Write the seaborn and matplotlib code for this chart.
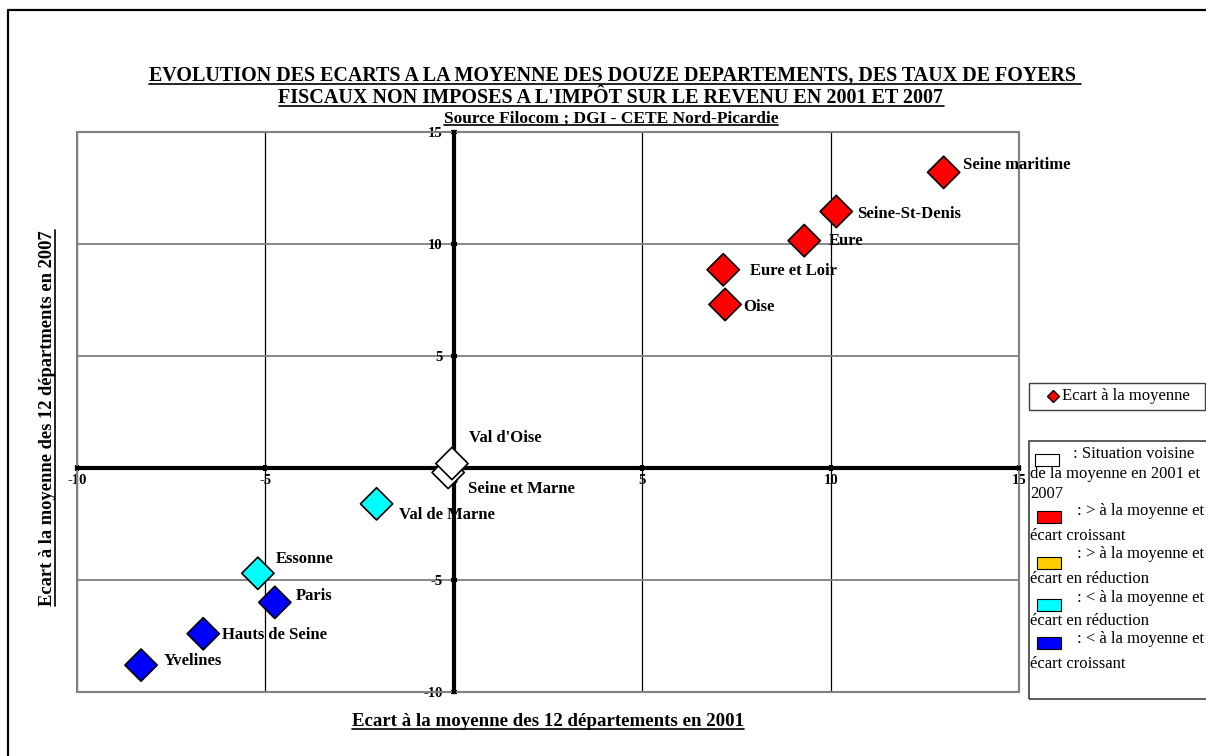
import matplotlib
matplotlib.use("Agg")
import matplotlib.pyplot as plt
import seaborn as sns
import pandas as pd
from matplotlib.patches import Rectangle
from matplotlib.lines import Line2D

# données (écart à la moyenne des 12 départements)
departements = ["Seine maritime", "Seine-St-Denis", "Eure", "Eure et Loir", "Oise",
                "Seine et Marne", "Val d'Oise", "Val de Marne", "Essonne", "Paris",
                "Hauts de Seine", "Yvelines"]
ecart_2001 = [13.0, 10.15, 9.3, 7.15, 7.2, -0.15, -0.05, -2.05, -5.2, -4.75, -6.65, -8.3]
ecart_2007 = [13.2, 11.45, 10.15, 8.85, 7.3, -0.2, 0.2, -1.6, -4.7, -6.0, -7.4, -8.8]
situation = ["sup_croissant"] * 5 + ["voisine"] * 2 + ["inf_reduction"] * 2 + ["inf_croissant"] * 3

couleurs = {"voisine": "white", "sup_croissant": "#FF0000", "sup_reduction": "#FFCC00",
            "inf_reduction": "#00FFFF", "inf_croissant": "#0000FF"}

# décalage des étiquettes (points)
decalages = [(14, 5), (15, -1.5), (18, 0), (19, -0.7), (13, -1.5), (14, -12),
             (12, 18.5), (16.5, -8), (13, 10), (15, 4.3), (13.7, -0.7), (16.5, 3)]

ticks_x = [-10, -5, 0, 5, 10, 15]
ticks_y = [-10, -5, 0, 5, 10, 15]

df = pd.DataFrame({"dep": departements, "x": ecart_2001, "y": ecart_2007, "situation": situation})

sns.set_style("white")
plt.rcParams["font.family"] = "Liberation Serif"
plt.rcParams["axes.unicode_minus"] = False
for k in ["text.color", "axes.labelcolor", "xtick.color", "ytick.color"]:
    plt.rcParams[k] = "black"

W, H = 1206, 756
fig = plt.figure(figsize=(W / 100, H / 100), dpi=100)


def px(x, y):
    return x / W, 1 - y / H


ax = fig.add_axes([77 / W, 1 - 692 / H, (1019 - 77) / W, (692 - 132) / H])

sns.scatterplot(data=df, x="x", y="y", hue="situation", palette=couleurs, marker="D",
                s=270, edgecolor="black", linewidth=1.2, legend=False, ax=ax, zorder=4)

for i, row in df.iterrows():
    ax.annotate(row["dep"], (row["x"], row["y"]), xytext=decalages[i], textcoords="offset points",
                ha="left", va="center", fontsize=12, fontweight="bold", zorder=5)

ax.set_xlim(-10, 15)
ax.set_ylim(-10, 15)
ax.set_xticks(ticks_x)
ax.set_yticks(ticks_y)
ax.set_xlabel("")
ax.set_ylabel("")

ax.xaxis.grid(True, color="black", lw=0.9)
ax.yaxis.grid(True, color="#808080", lw=1.3)
ax.set_axisbelow(True)

for s in ["top", "right"]:
    ax.spines[s].set_visible(False)
ax.spines["left"].set_position(("data", 0))
ax.spines["bottom"].set_position(("data", 0))
ax.spines["left"].set_linewidth(3)
ax.spines["bottom"].set_linewidth(3)
ax.spines["left"].set_color("black")
ax.spines["bottom"].set_color("black")
ax.add_patch(Rectangle((0, 0), 1, 1, transform=ax.transAxes, fill=False,
                       edgecolor="#808080", lw=1.5, zorder=2.4, clip_on=False))

ax.tick_params(axis="both", direction="inout", length=4, width=3, color="black",
               labelsize=10.5, bottom=True, left=True)
ax.tick_params(axis="x", pad=2)
ax.tick_params(axis="y", pad=6)
plt.setp(ax.get_xticklabels(), fontweight="bold")
plt.setp(ax.get_yticklabels(), fontweight="bold")

# titre et libellés d'axes (soulignés)
titres = []
titres.append(fig.text(*px(615, 76), "EVOLUTION DES ECARTS A LA MOYENNE DES DOUZE DEPARTEMENTS, DES TAUX DE FOYERS ",
                       ha="center", va="center", fontsize=14.4, fontweight="bold"))
titres.append(fig.text(*px(611, 98), "FISCAUX NON IMPOSES A L'IMPÔT SUR LE REVENU EN 2001 ET 2007",
                       ha="center", va="center", fontsize=14.5, fontweight="bold"))
titres.append(fig.text(*px(611, 119), "Source Filocom ; DGI - CETE Nord-Picardie",
                       ha="center", va="center", fontsize=12.5, fontweight="bold"))
lab_x = fig.text(*px(548, 722), "Ecart à la moyenne des 12 départements en 2001",
                 ha="center", va="center", fontsize=13.6, fontweight="bold")
lab_y = fig.text(*px(48, 418), "Ecart à la moyenne des 12 départments en 2007",
                 ha="center", va="center", fontsize=13.3, fontweight="bold", rotation=90)

# légende 1
fig.patches.append(Rectangle(px(1029, 410), 176 / W, 27 / H, transform=fig.transFigure,
                             fill=False, edgecolor="#404040", lw=1))
fig.lines.append(Line2D([1053 / W], [1 - 396 / H], transform=fig.transFigure, marker="D",
                        markersize=6, markerfacecolor="#FF0000", markeredgecolor="black", lw=0))
fig.text(*px(1062, 396), "Ecart à la moyenne", ha="left", va="center", fontsize=12)

# légende 2
fig.patches.append(Rectangle(px(1029, 699), 200 / W, 258 / H, transform=fig.transFigure,
                             fill=False, edgecolor="#404040", lw=1.2))
lignes = [(1073, 454, ": Situation voisine"), (1030, 474, "de la moyenne en 2001 et"),
          (1030, 494, "2007"),
          (1077, 511, ": > à la moyenne et"), (1030, 536, "écart croissant"),
          (1077, 554, ": > à la moyenne et"), (1030, 579, "écart en réduction"),
          (1077, 598, ": < à la moyenne et"), (1030, 621, "écart en réduction"),
          (1077, 639, ": < à la moyenne et"), (1030, 664, "écart croissant")]
for x0, y0, t in lignes:
    fig.text(*px(x0, y0), t, ha="left", va="center", fontsize=12)
cases = [(1035, 454, "voisine"), (1037, 511, "sup_croissant"), (1037, 557, "sup_reduction"),
         (1037, 599, "inf_reduction"), (1037, 637, "inf_croissant")]
for x0, y0, k in cases:
    fig.patches.append(Rectangle(px(x0, y0 + 12), 24 / W, 12 / H, transform=fig.transFigure,
                                 facecolor=couleurs[k], edgecolor="black", lw=0.8))

# cadre extérieur
fig.lines.append(Line2D([8 / W, 8 / W, 1.01], [-0.01, 1 - 10 / H, 1 - 10 / H],
                        transform=fig.transFigure, color="black", lw=1.6))

# soulignement
fig.canvas.draw()
rend = fig.canvas.get_renderer()
inv = fig.transFigure.inverted()
for t in titres + [lab_x]:
    bb = t.get_window_extent(rend)
    (xa, ya) = inv.transform((bb.x0, bb.y0 + 2))
    (xb, _) = inv.transform((bb.x1, bb.y0 + 2))
    fig.lines.append(Line2D([xa, xb], [ya, ya], transform=fig.transFigure, color="black", lw=1.2))
bb = lab_y.get_window_extent(rend)
(xa, ya) = inv.transform((bb.x1 - 2, bb.y0))
(_, yb) = inv.transform((bb.x1 - 2, bb.y1))
fig.lines.append(Line2D([xa, xa], [ya, yb], transform=fig.transFigure, color="black", lw=1.2))

fig.savefig("out.png", dpi=100)
